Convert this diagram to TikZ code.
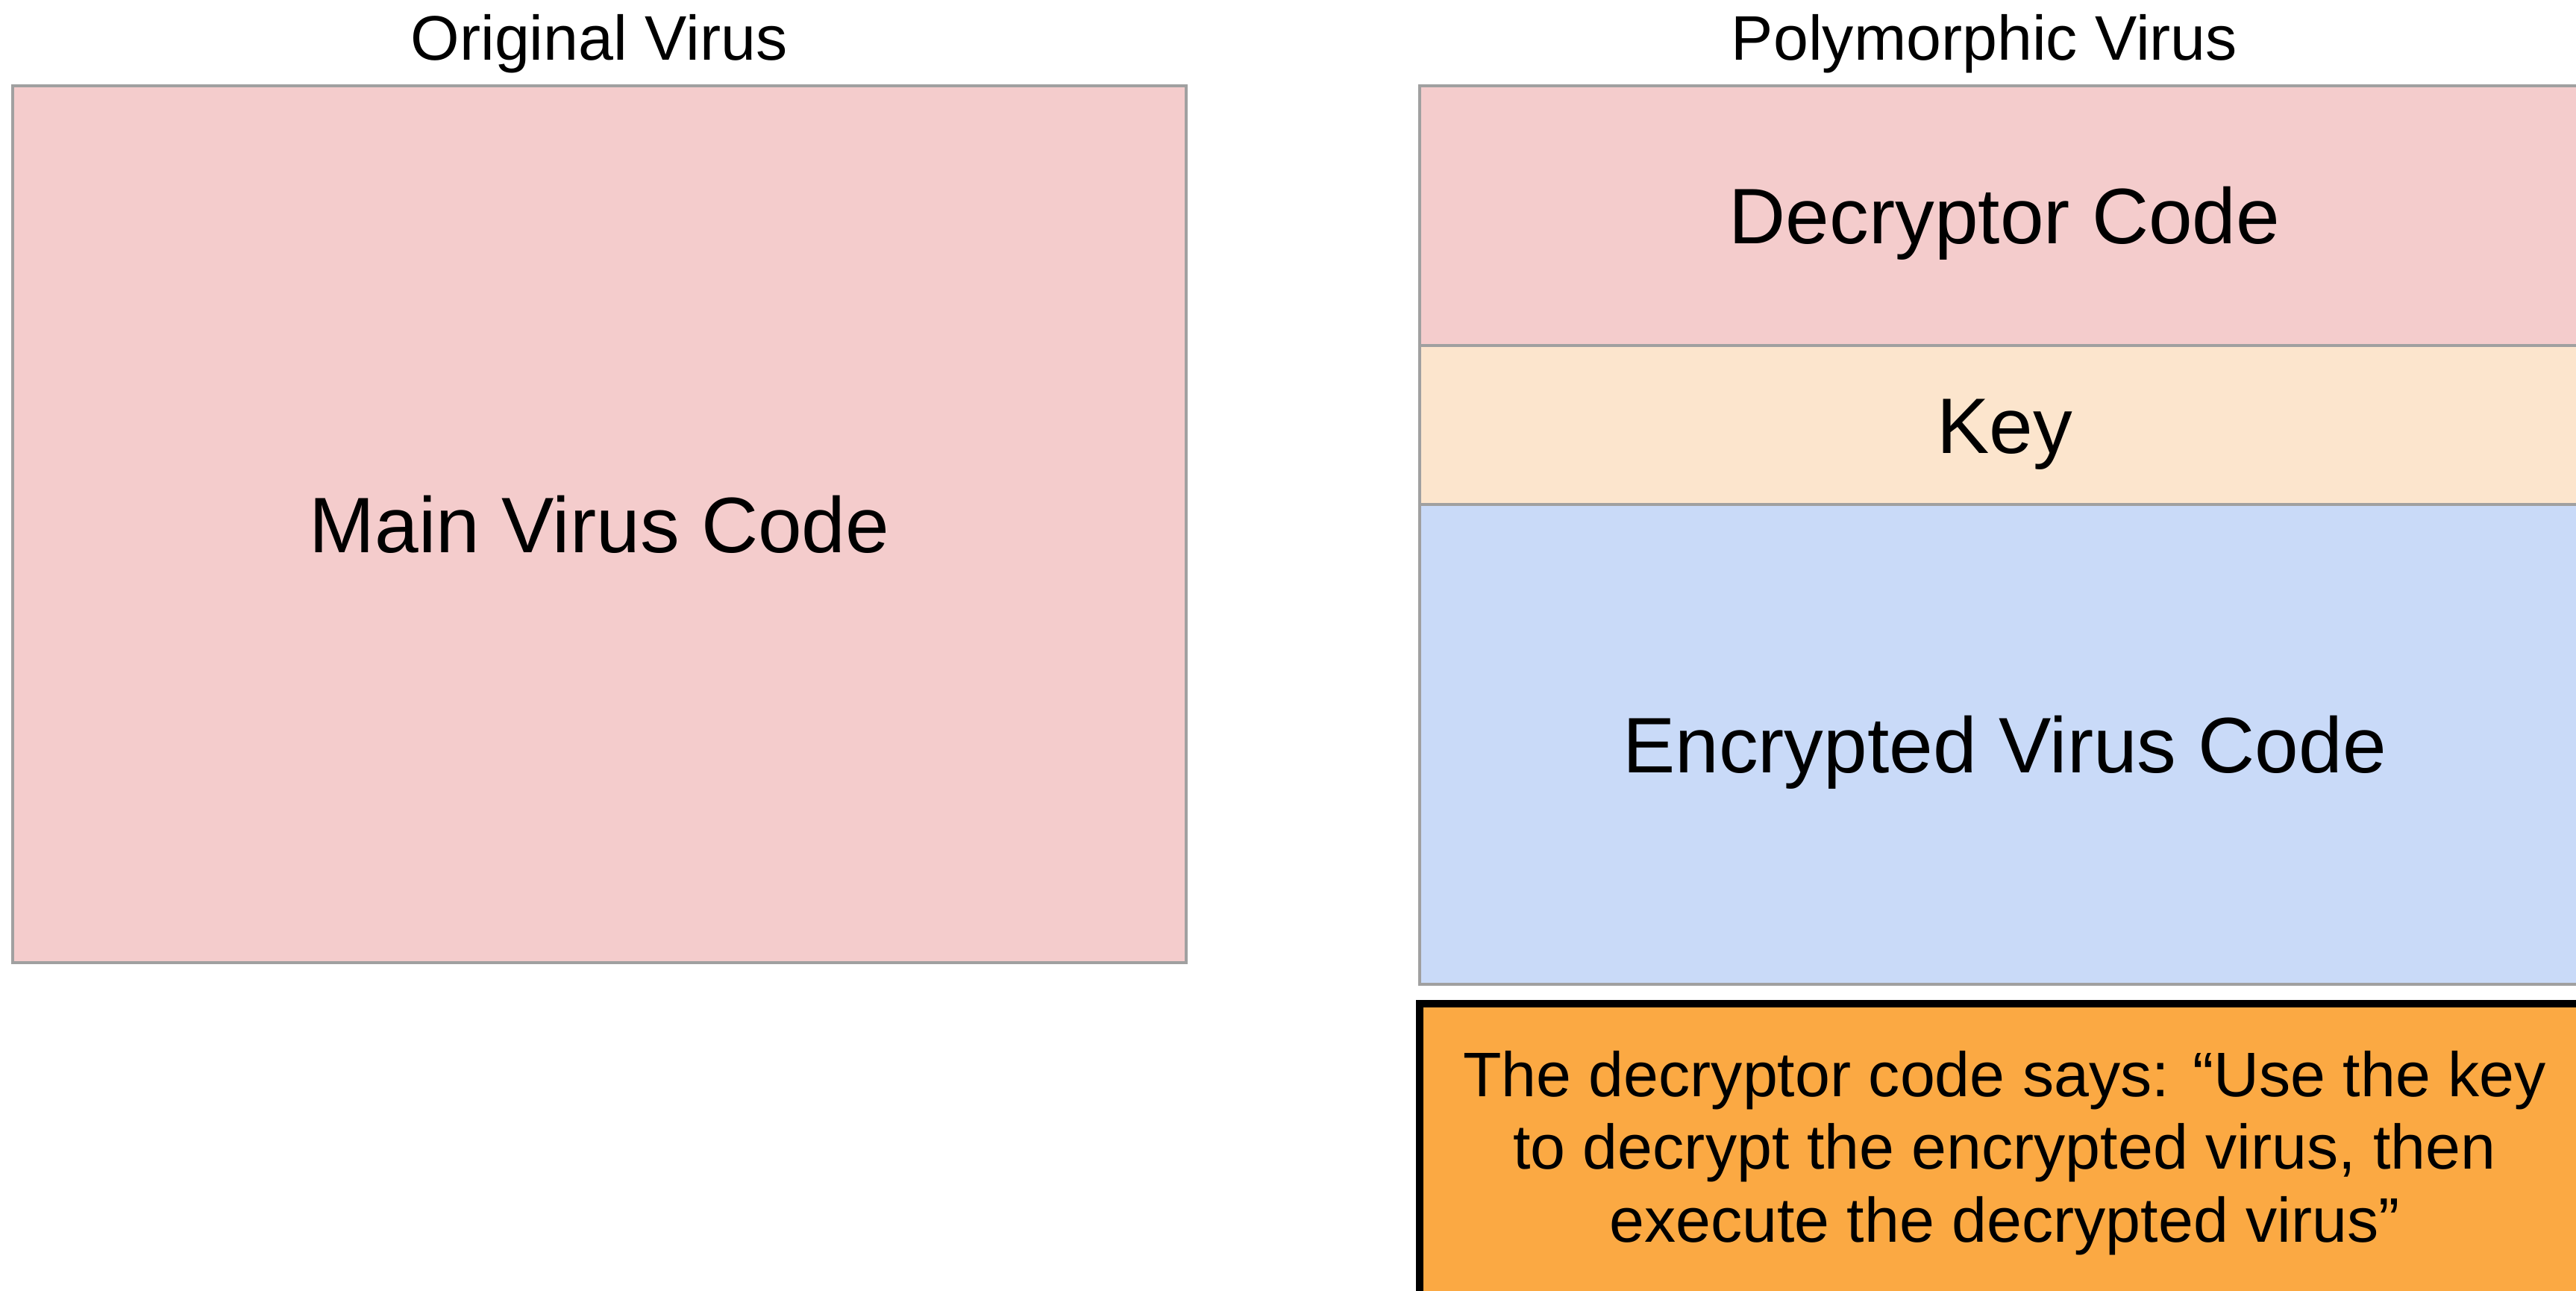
\documentclass[tikz,border=0pt]{standalone}
\usepackage{fontspec}
\setmainfont{Liberation Sans}
\usetikzlibrary{positioning}
\definecolor{codered}{HTML}{F4CCCC}
\definecolor{keypeach}{HTML}{FCE5CD}
\definecolor{cryptblue}{HTML}{C9DAF8}
\definecolor{noteorange}{HTML}{FBA943}
\definecolor{edgegray}{HTML}{A0A0A0}
\newcommand{\colw}{15.68cm}

\begin{document}
\begin{tikzpicture}[
  part/.style={draw=edgegray, line width=1.3pt, minimum width=\colw,
    inner sep=0pt, outer sep=0pt, font=\fontsize{30}{36}\selectfont,
    text height=21.5pt, text depth=0pt},
  note/.style={draw=black, line width=2.6pt, fill=noteorange, minimum width=\colw,
    inner sep=0pt, outer sep=0pt, align=center, font=\fontsize{24}{27.8}\selectfont},
  heading/.style={font=\fontsize{24}{28}\selectfont, anchor=base}
]
\useasboundingbox (0,0) rectangle (34.53,-17.30);
\fill[white] (0,0) rectangle (34.53,-17.30);

% left column
\node[part, fill=codered, minimum width=15.73cm, minimum height=11.75cm] (main) at (8.035,-7.025) {Main Virus Code};
\node[heading] (origtitle) at (8.03,-0.81) {Original Virus};

% right column, stacked parts
\node[part, fill=codered, minimum height=3.48cm] (decryptor) at (26.87,-2.89) {Decryptor Code};
\node[part, fill=keypeach, minimum height=2.13cm, below=0pt of decryptor] (key) {Key};
\node[part, fill=cryptblue, minimum height=6.43cm, below=0pt of key] (encrypted) {Encrypted Virus Code};
\node[heading] (polytitle) at (26.60,-0.81) {Polymorphic Virus};

% explanation under the stack
\node[note, minimum height=4.0cm, below=0.26cm of encrypted] (explain)
  {The decryptor code says: “Use the key\\ to decrypt the encrypted virus, then\\ execute the decrypted virus”};
\end{tikzpicture}
\end{document}
